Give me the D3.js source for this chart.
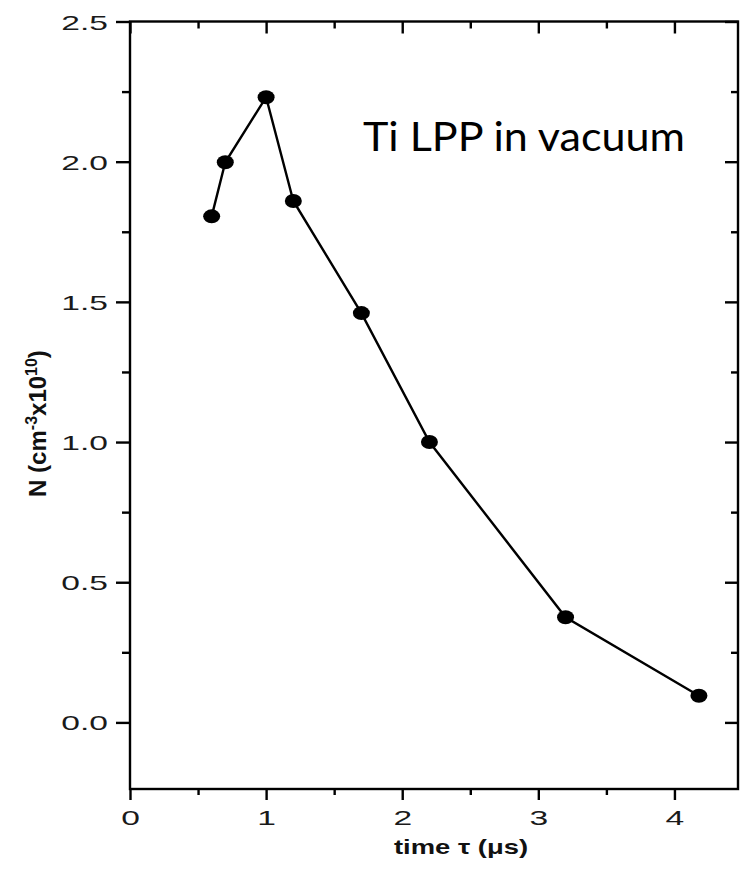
<!DOCTYPE html>
<html>
<head>
<meta charset="utf-8">
<script src="https://cdn.jsdelivr.net/npm/d3@7"></script>
<style>
  html, body { margin: 0; padding: 0; background: #fff; }
  svg { display: block; }
  .tick-label { font-family: "Liberation Sans", Arial, sans-serif; font-size: 21px; fill: #1a1a1a; }
  .axis-title { font-family: "Liberation Sans", Arial, sans-serif; font-weight: bold; fill: #111; }
  .note { font-family: Lato, "Open Sans", sans-serif; font-size: 41px; fill: #000; }
</style>
</head>
<body>
<div id="chart"></div>
<script>
// ── data
const timeUs  = [0.6, 0.7, 1.0, 1.2, 1.7, 2.2, 3.2, 4.18];
const density = [1.805, 1.998, 2.23, 1.86, 1.46, 1.0, 0.375, 0.095];

const xMajor = [0, 1, 2, 3, 4];
const xMinor = [0.5, 1.5, 2.5, 3.5];
const yMajor = [0, 0.5, 1.0, 1.5, 2.0, 2.5];
const yMinor = [0.25, 0.75, 1.25, 1.75, 2.25];

const annotation = 'Ti LPP in vacuum';

// ── layout
const W = 743, H = 872;
const plotL = 130, plotR = 738, plotT = 21.5, plotB = 789;
const STRETCH = 1.6;   // the scanned figure's text is wide

const x = d3.scaleLinear().domain([0, 4.467]).range([plotL, plotR]);
const y = d3.scaleLinear().domain([-0.2375, 2.5]).range([plotB, plotT]);

const svg = d3.select('#chart').append('svg')
  .attr('width', W).attr('height', H)
  .attr('viewBox', `0 0 ${W} ${H}`);

// frame
svg.append('rect')
  .attr('x', plotL).attr('y', plotT)
  .attr('width', plotR - plotL).attr('height', plotB - plotT)
  .attr('fill', 'none').attr('stroke', '#000').attr('stroke-width', 2.4);

function tickLayer(axisFn, scale, values, size, pos, labels) {
  const g = svg.append('g')
    .attr('transform', pos)
    .call(axisFn(scale).tickValues(values).tickSize(size).tickSizeOuter(0)
      .tickFormat(labels ? d3.format('.1f') : () => ''));
  g.select('.domain').remove();
  g.selectAll('.tick line').attr('stroke', '#000').attr('stroke-width', 2.4);
  return g;
}

// left: outward ticks with labels
const gl = tickLayer(d3.axisLeft, y, yMajor, 14, `translate(${plotL},0)`, true);
gl.selectAll('.tick text')
  .attr('class', 'tick-label')
  .attr('x', -22 / STRETCH)
  .attr('dy', '0.36em')
  .attr('transform', `scale(${STRETCH},1)`);
tickLayer(d3.axisLeft, y, yMinor, 8, `translate(${plotL},0)`, false);

// right: inward ticks
tickLayer(d3.axisLeft, y, yMajor, 13, `translate(${plotR},0)`, false);
tickLayer(d3.axisLeft, y, yMinor, 7, `translate(${plotR},0)`, false);

// bottom: outward ticks with labels
const gb = svg.append('g')
  .attr('transform', `translate(0,${plotB})`)
  .call(d3.axisBottom(x).tickValues(xMajor).tickSize(11).tickFormat(d3.format('d')));
gb.select('.domain').remove();
gb.selectAll('.tick line').attr('stroke', '#000').attr('stroke-width', 2.4);
gb.selectAll('.tick text')
  .attr('class', 'tick-label')
  .attr('y', 36).attr('dy', 0)
  .attr('transform', `scale(${STRETCH},1)`)
  .attr('x', 0);
tickLayer(d3.axisBottom, x, xMinor, 6, `translate(0,${plotB})`, false);

// top: inward ticks
tickLayer(d3.axisTop, x, xMajor, -12, `translate(0,${plotT})`, false);
tickLayer(d3.axisTop, x, xMinor, -7, `translate(0,${plotT})`, false);

// axis titles
svg.append('text')
  .attr('class', 'axis-title')
  .attr('x', 461).attr('y', 854)
  .attr('text-anchor', 'middle')
  .attr('font-size', 21)
  .attr('textLength', 134).attr('lengthAdjust', 'spacingAndGlyphs')
  .html('time &#964; (&#956;s)');

const yt = svg.append('text')
  .attr('class', 'axis-title')
  .attr('font-size', 24)
  .attr('text-anchor', 'middle')
  .attr('transform', 'translate(46,423.5) rotate(-90)');
yt.append('tspan').text('N (cm');
yt.append('tspan').attr('dy', -9).attr('font-size', 16).text('-3');
yt.append('tspan').attr('dy', 9).text('x10');
yt.append('tspan').attr('dy', -9).attr('font-size', 16).text('10');
yt.append('tspan').attr('dy', 9).text(')');

// data line + markers
const pts = timeUs.map((t, i) => ({ t, n: density[i] }));
svg.append('path')
  .datum(pts)
  .attr('fill', 'none').attr('stroke', '#000').attr('stroke-width', 2.4)
  .attr('d', d3.line().x(d => x(d.t)).y(d => y(d.n)));

svg.append('g').selectAll('ellipse')
  .data(pts)
  .join('ellipse')
  .attr('cx', d => x(d.t)).attr('cy', d => y(d.n))
  .attr('rx', 8.5).attr('ry', 7)
  .attr('fill', '#000');

// annotation
svg.append('text')
  .attr('class', 'note')
  .attr('x', 363).attr('y', 151)
  .attr('textLength', 322).attr('lengthAdjust', 'spacingAndGlyphs')
  .text(annotation);
</script>
</body>
</html>
